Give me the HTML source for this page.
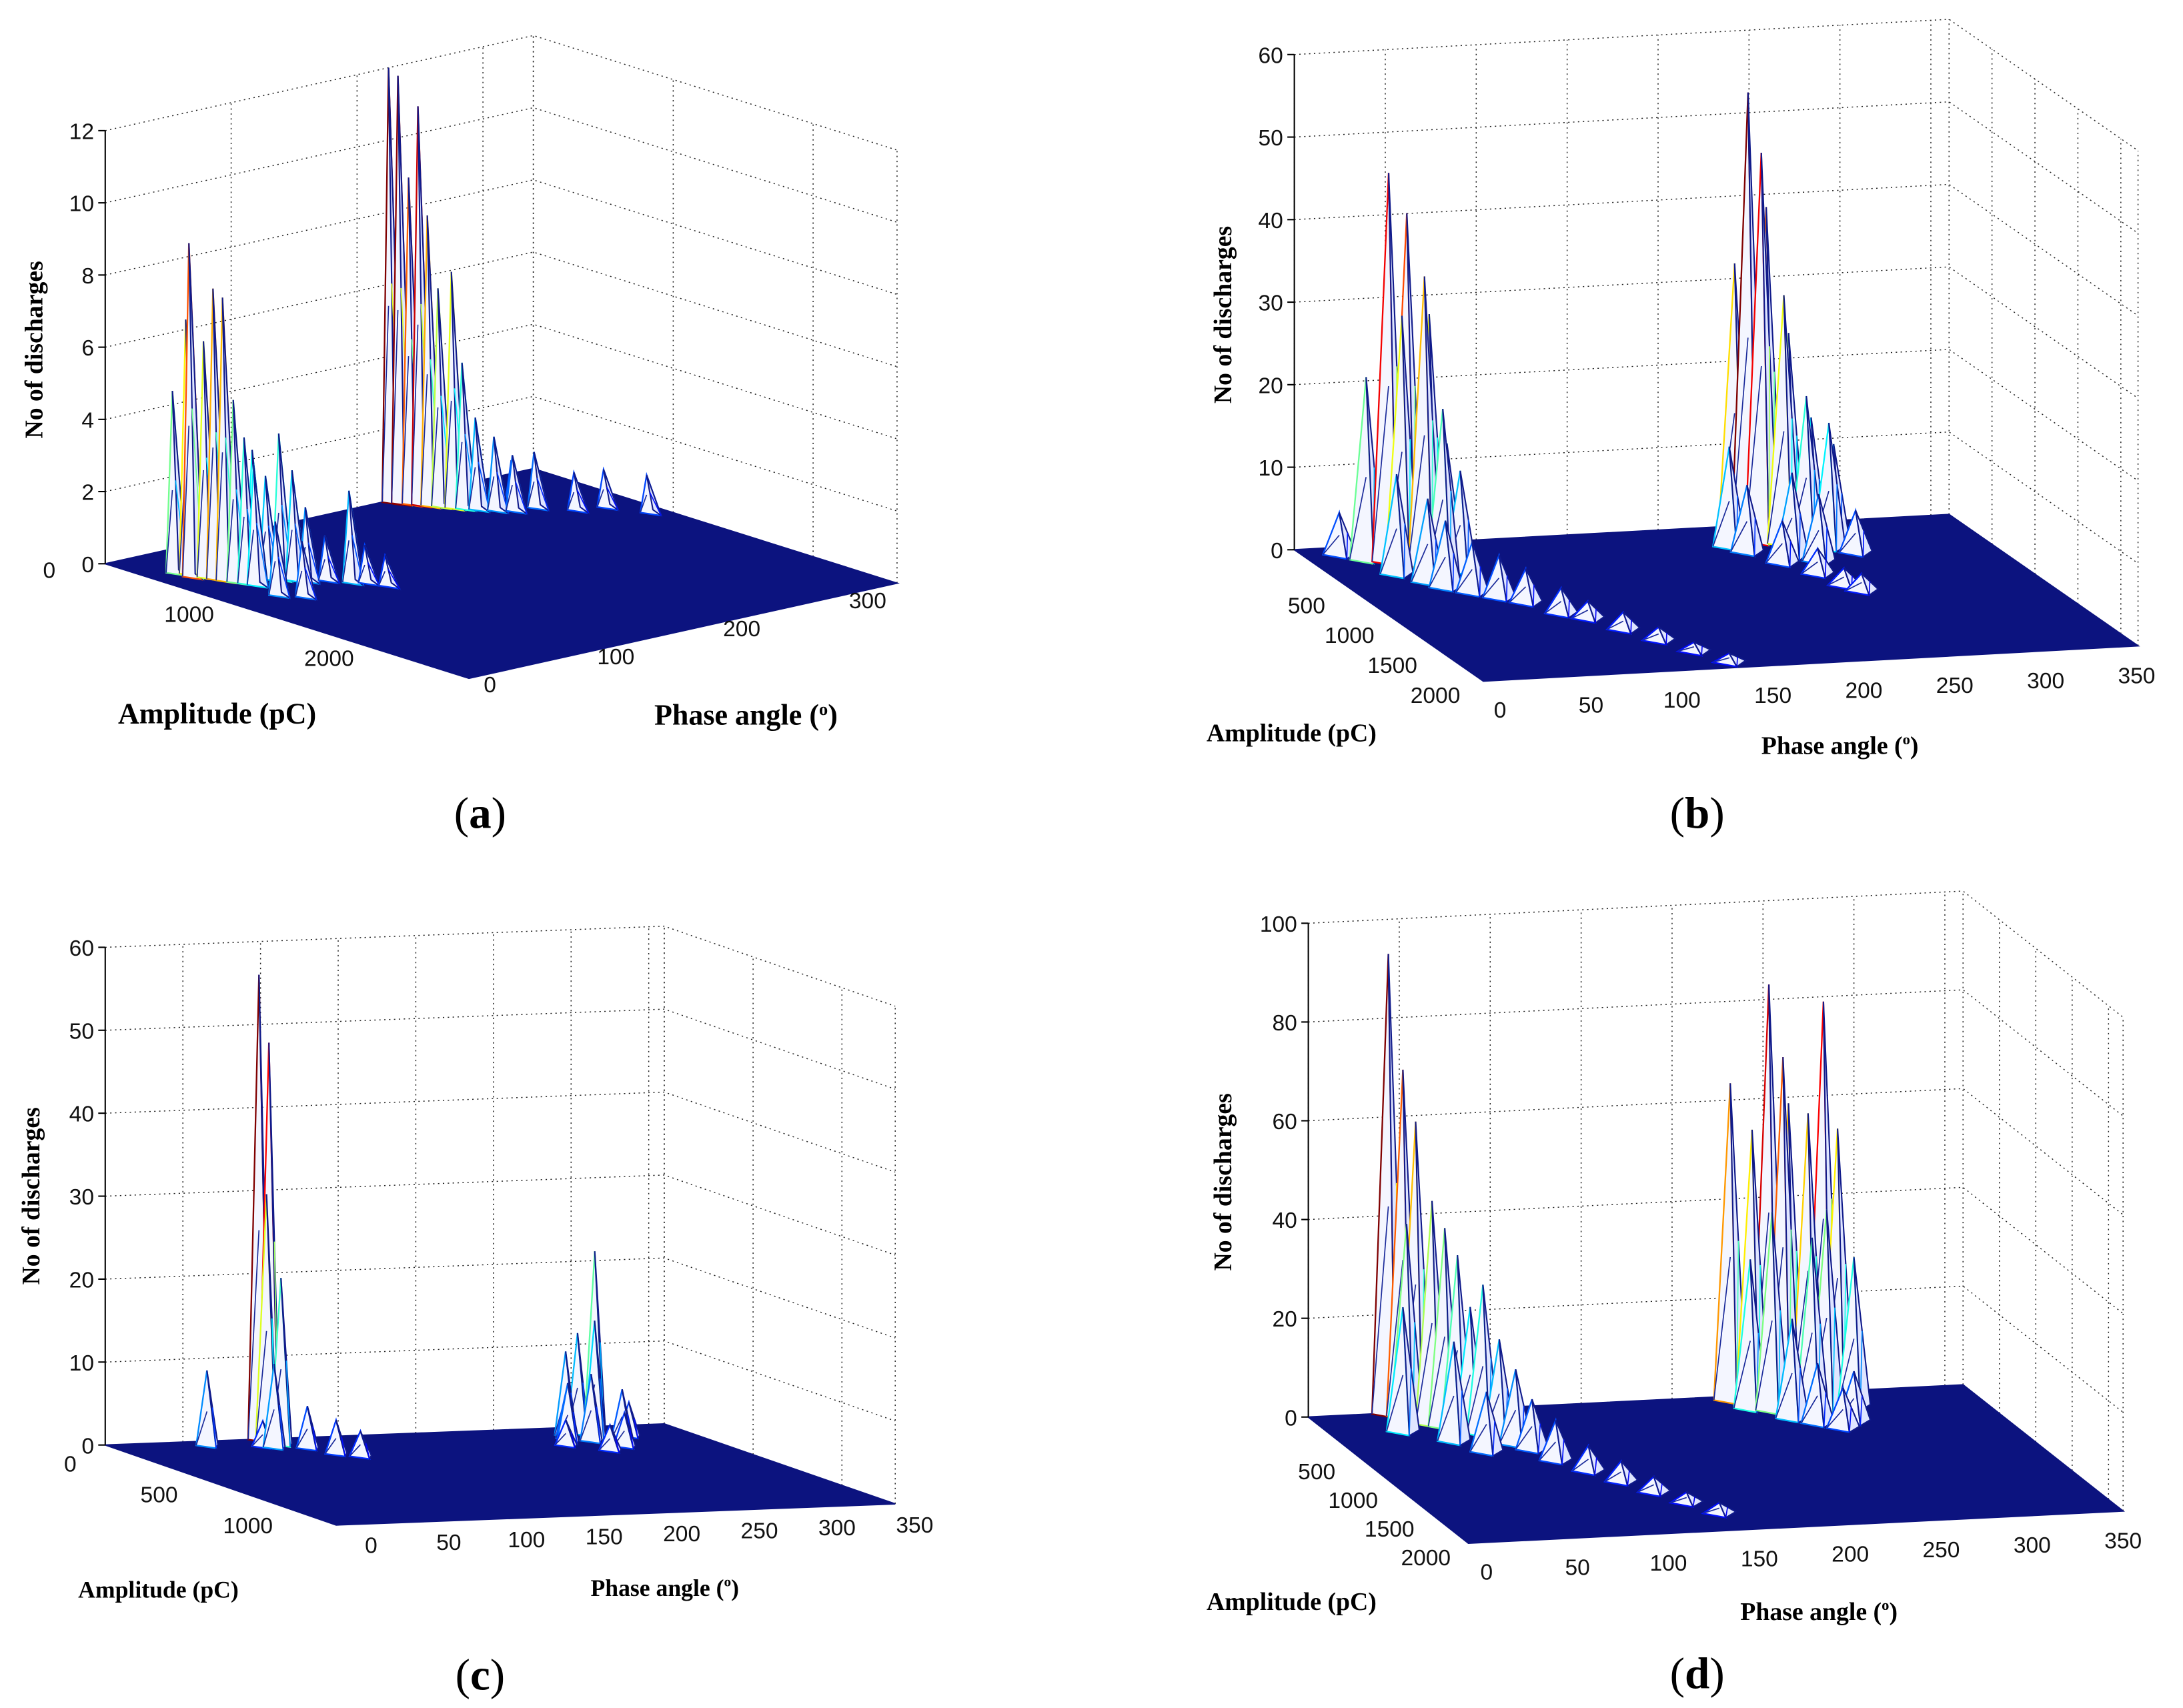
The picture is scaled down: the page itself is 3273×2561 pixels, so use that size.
<!DOCTYPE html>
<html><head><meta charset="utf-8"><style>
html,body{margin:0;padding:0;background:#fff}
svg{display:block}
text{font-family:"Liberation Sans",sans-serif}
.ser{font-family:"Liberation Serif",serif}
</style></head><body>
<svg id="fig" width="3273" height="2561" viewBox="0 0 1560 1221" xmlns="http://www.w3.org/2000/svg"></svg>
<script>
// ---- data: peaks per panel (phase deg, amplitude pC, count) ----
const aPh=[20,22,25,28,30,32,35,38,40,45,50,55,60,65,70,75,80,88,95,100,35,45,225,228,232,235,238,242,246,250,244,255,262,270,278,285,300,318,330];
const aAmp=[300,400,350,450,500,550,600,650,700,500,600,650,700,750,800,700,850,950,1000,1100,900,1000,0,40,80,120,160,200,260,300,120,350,420,480,400,500,650,700,900];
const aCnt=[5,9.2,7,6.5,8,7.8,5,4,3.3,3,3.5,2.8,4,3,2,1.5,1.2,2.5,1,0.8,2,1.5,12,11.8,9,11,8,6,6.5,4,3,2.5,2,1.5,1.2,1.5,1,1,1];
const bPh=[20,30,35,40,45,50,55,60,65,58,70,45,50,60,70,80,90,100,110,120,130,140,225,230,235,240,245,250,255,260,265,270,275,280,250,260,240,250,255,260,285];
const bAmp=[100,200,450,250,300,250,350,300,400,500,450,600,700,800,900,1000,1200,1300,1500,1700,1900,2100,300,400,150,200,250,200,300,250,350,300,400,350,500,600,600,800,1000,1100,500];
const bCnt=[5,22,12,47,30,42,35,30,15,20,12,10,8,6,5,4,3,2,2,1.5,1,1,12,8,33,54,47,40,30,25,18,15,15,12,10,8,5,3,2,2,5];
const cPh=[59,99,102,97,104,95,113,120,130,90,303,298,295,290,285,280,275,310,320,300,285,268];
const cAmp=[57,0,30,60,80,120,150,250,300,100,107,150,80,200,100,150,200,200,150,300,350,250];
const cCnt=[9,56,48,30,20,10,5,4,3,3,22,14,12,8,10,6,7,6,4,4,3,3];
const dPh=[44,50,55,48,60,65,70,80,75,85,90,95,60,70,100,110,120,130,140,150,40,230,240,250,255,260,270,280,285,275,265,245,235,290,250,260,270,280];
const dAmp=[0,50,100,150,200,250,300,400,350,500,600,700,500,700,900,1100,1300,1500,1700,1900,300,50,100,80,150,100,120,80,150,250,300,250,200,250,400,500,600,500];
const dCnt=[93,70,60,40,45,40,35,30,25,20,15,10,20,12,8,5,4,3,2,2,25,64,55,84,70,60,58,80,55,40,35,40,30,30,20,12,8,10];
// tick labels
const zTicksA=[0,2,4,6,8,10,12], ampTicksA=[0,1000,2000], phTicksA=[0,100,200,300];
const zTicksB=[0,10,20,30,40,50,60], ampTicksB=[500,1000,1500,2000], phTicksB=[0,50,100,150,200,250,300,350];
const zTicksC=[0,10,20,30,40,50,60], ampTicksC=[0,500,1000], phTicksC=[0,50,100,150,200,250,300,350];
const zTicksD=[0,20,40,60,80,100], ampTicksD=[500,1000,1500,2000], phTicksD=[0,50,100,150,200,250,300,350];

const NS="http://www.w3.org/2000/svg";
const svg=document.getElementById('fig');
function mk(tag,attrs,parent){const e=document.createElementNS(NS,tag);for(const k in attrs)e.setAttribute(k,attrs[k]);(parent||svg).appendChild(e);return e;}
function jet(t){t=Math.max(0,Math.min(1,t));const r=Math.max(0,Math.min(1,1.5-Math.abs(4*t-3))),g=Math.max(0,Math.min(1,1.5-Math.abs(4*t-2))),b=Math.max(0,Math.min(1,1.5-Math.abs(4*t-1)));return `rgb(${Math.round(r*255)},${Math.round(g*255)},${Math.round(b*255)})`;}

function panel(cfg){
  const g=mk('g',{});
  
  
  const pr=(p,a,z)=>[cfg.O[0]+a*cfg.A[0]+p*cfg.P[0], cfg.O[1]+a*cfg.A[1]+p*cfg.P[1]-z*cfg.Z];
  const pt=(q)=>q[0].toFixed(1)+','+q[1].toFixed(1);
  const am=cfg.ampMax, pm=cfg.phMax, zm=cfg.zMax;
  const dot={stroke:'#222','stroke-width':0.7,'stroke-dasharray':'1 2.5',fill:'none'};
  const grid=mk('g',{},g);
  
  
  cfg.ph.forEach(p=>{const a=pr(p,0,0),b=pr(p,0,zm);mk('line',Object.assign({x1:a[0],y1:a[1],x2:b[0],y2:b[1]},dot),grid);});
  cfg.amp.forEach(a0=>{const a=pr(pm,a0,0),b=pr(pm,a0,zm);mk('line',Object.assign({x1:a[0],y1:a[1],x2:b[0],y2:b[1]},dot),grid);});
  [pm].forEach(p=>{const a=pr(p,0,0),b=pr(p,0,zm);mk('line',Object.assign({x1:a[0],y1:a[1],x2:b[0],y2:b[1]},dot),grid);const c=pr(p,am,0),d=pr(p,am,zm);mk('line',Object.assign({x1:c[0],y1:c[1],x2:d[0],y2:d[1]},dot),grid);});
  cfg.z.forEach(z=>{const a=pr(0,0,z),b=pr(pm,0,z),c=pr(pm,am,z);mk('polyline',Object.assign({points:pt(a)+' '+pt(b)+' '+pt(c)},dot),grid);});
  const fl=mk('polygon',{points:[pr(0,0,0),pr(pm,0,0),pr(pm,am,0),pr(0,am,0)].map(pt).join(' '),fill:'#0c137f',stroke:'#0c137f'},g);
  
  
  const o=pr(0,0,0),ot=pr(0,0,zm);
  const ax=mk('line',{x1:o[0],y1:o[1],x2:ot[0],y2:ot[1],stroke:'#000','stroke-width':1},g);
  
  
  const idx=cfg.pPh.map((_,i)=>i).sort((i,j)=>cfg.pAmp[i]-cfg.pAmp[j]);
  const pg=mk('g',{},g);
  
  
  idx.forEach(i=>{
    const p=cfg.pPh[i],a=cfg.pAmp[i],c=cfg.pCnt[i];
    const T=pr(p,a,c),L=pr(p-cfg.dw,a,0),R=pr(p+cfg.dw,a,0),F=pr(p,a+am*0.04,0),M=pr(p,a,c*0.45),M2=pr(p+cfg.dw*0.5,a,c*0.5);
    const col=jet(0.12+0.88*c/cfg.pMax);
    const s1=mk('polygon',{points:[L,T,F].map(pt).join(' '),fill:'#f4f6ff',stroke:col,'stroke-width':1.1},pg);
    
    
    const s2=mk('polygon',{points:[F,T,R].map(pt).join(' '),fill:'#dfe5ff',stroke:'#101a8a','stroke-width':1},pg);
    
    
    mk('line',{x1:L[0],y1:L[1],x2:M[0],y2:M[1],stroke:'#1a2a9a','stroke-width':0.8},pg);
    mk('line',{x1:F[0],y1:F[1],x2:M2[0],y2:M2[1],stroke:jet(0.1+0.5*c/cfg.pMax),'stroke-width':0.8},pg);
  });
  cfg.z.forEach(z=>{const q=pr(0,0,z);const t=mk('text',{x:q[0]-8,y:q[1]+6,'font-size':16,'text-anchor':'end',fill:'#111'},g);t.textContent=z;
    
    mk('line',{x1:q[0]-5,y1:q[1],x2:q[0],y2:q[1],stroke:'#000'},g);});
  cfg.amp.forEach(a=>{const q=pr(0,a,0);const t=mk('text',{x:q[0]+cfg.ao[0],y:q[1]+cfg.ao[1],'font-size':16,'text-anchor':'middle',fill:'#111'},g);t.textContent=a;
    });
  cfg.ph.forEach(p=>{const q=pr(p,am,0);const t=mk('text',{x:q[0]+cfg.po[0],y:q[1]+cfg.po[1],'font-size':16,'text-anchor':'middle',fill:'#111'},g);t.textContent=p;
    });
  const yl=mk('text',{x:0,y:0,'font-size':18,'font-weight':'bold','text-anchor':'middle',class:'ser',transform:`translate(${cfg.yl[0]},${cfg.yl[1]}) rotate(-90)`},g);yl.textContent='No of discharges';
  
  const al=mk('text',{x:cfg.al[0],y:cfg.al[1],'font-size':cfg.alSize,'font-weight':'bold','text-anchor':'middle',class:'ser'},g);al.textContent='Amplitude (pC)';
  
  const pl=mk('text',{x:cfg.pl[0],y:cfg.pl[1],'font-size':cfg.alSize,'font-weight':'bold','text-anchor':'middle',class:'ser'},g);pl.textContent='Phase angle (';
  const sup=mk('tspan',{'font-size':cfg.alSize*0.6,dy:-7},pl);sup.textContent='o';
  const cl=mk('tspan',{dy:7},pl);cl.textContent=')';
  
  const cap=mk('text',{x:cfg.cap[0],y:cfg.cap[1],'font-size':32,'text-anchor':'middle',class:'ser'},g);
  cap.textContent='(';const bb=mk('tspan',{'font-weight':'bold'},cap);bb.textContent=cfg.id;const ce=mk('tspan',{},cap);ce.textContent=')';
  
}

panel({id:'a',O:[75,403],A:[0.1,0.0315],P:[0.9,-0.2],Z:25.8,ampMax:2600,phMax:340,zMax:12,z:zTicksA,amp:ampTicksA,ph:phTicksA,
  pPh:aPh,pAmp:aAmp,pCnt:aCnt,pMax:12,dw:5,ao:[-40,10],po:[15,10],yl:[30,250],al:[155,517],pl:[533,518],alSize:21,cap:[343,592]});
panel({id:'b',O:[925,393],A:[0.0614,0.0427],P:[1.3,-0.07],Z:5.9,ampMax:2200,phMax:360,zMax:60,z:zTicksB,amp:ampTicksB,ph:phTicksB,
  pPh:bPh,pAmp:bAmp,pCnt:bCnt,pMax:54,dw:9,ao:[-22,24],po:[12,26],yl:[880,225],al:[923,530],pl:[1315,539],alSize:18,cap:[1213,592]});
panel({id:'c',O:[75,1033],A:[0.127,0.044],P:[1.11,-0.042],Z:5.93,ampMax:1300,phMax:360,zMax:60,z:zTicksC,amp:ampTicksC,ph:phTicksC,
  pPh:cPh,pAmp:cAmp,pCnt:cCnt,pMax:56,dw:7,ao:[-25,19],po:[25,20],yl:[28,855],al:[113,1142],pl:[475,1141],alSize:17,cap:[343,1208]});
panel({id:'d',O:[935,1013],A:[0.052,0.041],P:[1.3,-0.064],Z:3.53,ampMax:2200,phMax:360,zMax:100,z:zTicksD,amp:ampTicksD,ph:phTicksD,
  pPh:dPh,pAmp:dAmp,pCnt:dCnt,pMax:93,dw:9,ao:[-20,24],po:[13,26],yl:[880,845],al:[923,1151],pl:[1300,1158],alSize:18,cap:[1213,1207]});
</script>
</body></html>
